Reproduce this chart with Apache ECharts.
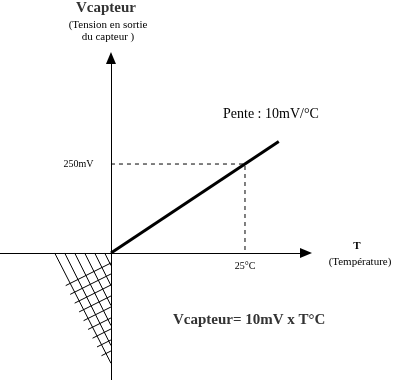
<!DOCTYPE html>
<html>
<head>
<meta charset="utf-8">
<style>html,body{margin:0;padding:0;background:#fff;}#chart{width:414px;height:380px;}</style>
<script src="https://cdn.jsdelivr.net/npm/echarts@6/dist/echarts.min.js"></script>
</head>
<body>
<div id="chart"></div>
<script>
// Data
var lineT = [0, 31.3];          // temperature (°C)
var lineV = [0, 313];           // sensor voltage (mV)
var guideT = [0, 25, 25];       // dashed guide
var guideV = [250, 250, 0];
var xTickValue = 25;
var yTickValue = 250;
var hatchT = [0, -10.5, 0];     // hatched (invalid) region vertices
var hatchV = [0, 0, -310];

var chart = echarts.init(document.getElementById('chart'), null, {renderer: 'canvas'});
var serif = '"Liberation Serif", "DejaVu Serif", serif';

function pairs(a, b) { return a.map(function (v, i) { return [v, b[i]]; }); }

function clipLine(p0, d, poly, extendStart) {
  var ts = [];
  for (var i = 0; i < poly.length; i++) {
    var a = poly[i], b = poly[(i + 1) % poly.length];
    var ex = b[0] - a[0], ey = b[1] - a[1];
    var den = d[0] * ey - d[1] * ex;
    if (Math.abs(den) < 1e-9) continue;
    var wx = a[0] - p0[0], wy = a[1] - p0[1];
    var t = (wx * ey - wy * ex) / den;
    var s = (wx * d[1] - wy * d[0]) / den;
    if (s >= -1e-6 && s <= 1 + 1e-6) ts.push(t);
  }
  if (ts.length < 2) return null;
  var t0 = Math.min.apply(null, ts) - (extendStart || 0), t1 = Math.max.apply(null, ts);
  if (t1 - t0 < 0.5) return null;
  return [[p0[0] + d[0] * t0, p0[1] + d[1] * t0], [p0[0] + d[0] * t1, p0[1] + d[1] * t1]];
}

var tickLabel = {color: '#000', fontFamily: serif, fontSize: 10};

var option = {
  animation: false,
  backgroundColor: '#fff',
  grid: {left: 0, right: 108, top: 58, bottom: 0, containLabel: false, outerBoundsMode: 'none'},
  xAxis: {
    type: 'value', min: -20.7, max: 36.38,
    axisLine: {onZero: true, lineStyle: {color: '#000', width: 1}, symbol: ['none', 'triangle'], symbolSize: [10, 12]},
    axisTick: {show: false},
    splitLine: {show: false},
    axisLabel: {show: false}
  },
  yAxis: {
    type: 'value', min: -357, max: 548,
    axisLine: {onZero: true, lineStyle: {color: '#000', width: 1}, symbol: ['none', 'triangle'], symbolSize: [10, 12]},
    axisTick: {show: false},
    splitLine: {show: false},
    axisLabel: {show: false}
  },
  series: [
    {
      type: 'custom',
      silent: true,
      clip: false,
      data: [[0]],
      renderItem: function (params, api) {
        var poly = hatchT.map(function (t, i) { return api.coord([t, hatchV[i]]); });
        var A = poly[0], B = poly[1], C = poly[2];
        var st = {stroke: '#000', lineWidth: 1};
        var children = [{type: 'line', shape: {x1: B[0], y1: B[1], x2: C[0], y2: C[1]}, style: st}];
        var s5 = Math.sqrt(5);
        var d1 = [1 / s5, 2 / s5];
        var d2 = [2 / s5, -1 / s5];
        for (var x = B[0] + 10; x < A[0] - 1; x += 10) {
          var seg = clipLine([x, B[1]], d1, poly, 0);
          if (seg) children.push({type: 'line', shape: {x1: seg[0][0], y1: seg[0][1], x2: seg[1][0], y2: seg[1][1]}, style: st});
        }
        for (var y = A[1] + 10; y < C[1] - 2; y += 11) {
          var seg2 = clipLine([A[0], y], d2, poly, 5);
          if (seg2) children.push({type: 'line', shape: {x1: seg2[0][0], y1: seg2[0][1], x2: seg2[1][0], y2: seg2[1][1]}, style: st});
        }
        return {type: 'group', children: children};
      },
      z: 1
    },
    {
      type: 'line',
      data: [
        {value: [guideT[0], guideV[0]], label: {show: true, position: 'left', distance: 17, formatter: yTickValue + 'mV'}},
        {value: [guideT[1], guideV[1]]},
        {value: [guideT[2], guideV[2]], label: {show: true, position: 'bottom', distance: 8, formatter: xTickValue + '°C'}}
      ],
      symbol: 'circle',
      symbolSize: 1,
      showSymbol: true,
      itemStyle: {color: 'rgba(0,0,0,0)'},
      label: Object.assign({show: false}, tickLabel),
      lineStyle: {color: '#000', width: 1, type: [4, 4]},
      z: 2
    },
    {
      type: 'line',
      data: pairs(lineT, lineV),
      symbol: 'none',
      lineStyle: {color: '#000', width: 3},
      z: 3
    }
  ],
  graphic: [
    {type: 'text', x: 106, y: 8, style: {text: 'Vcapteur', font: 'bold 15px ' + serif, fill: '#333', textAlign: 'center', textVerticalAlign: 'middle'}},
    {type: 'text', x: 108, y: 25.5, style: {text: '(Tension en sortie', font: '11px ' + serif, fill: '#000', textAlign: 'center', textVerticalAlign: 'middle'}},
    {type: 'text', x: 108, y: 37.5, style: {text: 'du capteur )', font: '11px ' + serif, fill: '#000', textAlign: 'center', textVerticalAlign: 'middle'}},
    {type: 'text', x: 223, y: 114, style: {text: 'Pente : 10mV/°C', font: '14px ' + serif, fill: '#000', textAlign: 'left', textVerticalAlign: 'middle'}},
    {type: 'text', x: 357, y: 246, style: {text: 'T', font: 'bold 11px ' + serif, fill: '#000', textAlign: 'center', textVerticalAlign: 'middle'}},
    {type: 'text', x: 360, y: 262, style: {text: '(Température)', font: '11px ' + serif, fill: '#000', textAlign: 'center', textVerticalAlign: 'middle'}},
    {type: 'text', x: 173, y: 320.5, style: {text: 'Vcapteur= 10mV x T°C', font: 'bold 15px ' + serif, fill: '#333', textAlign: 'left', textVerticalAlign: 'middle'}}
  ]
};
chart.setOption(option);
</script>
</body>
</html>
